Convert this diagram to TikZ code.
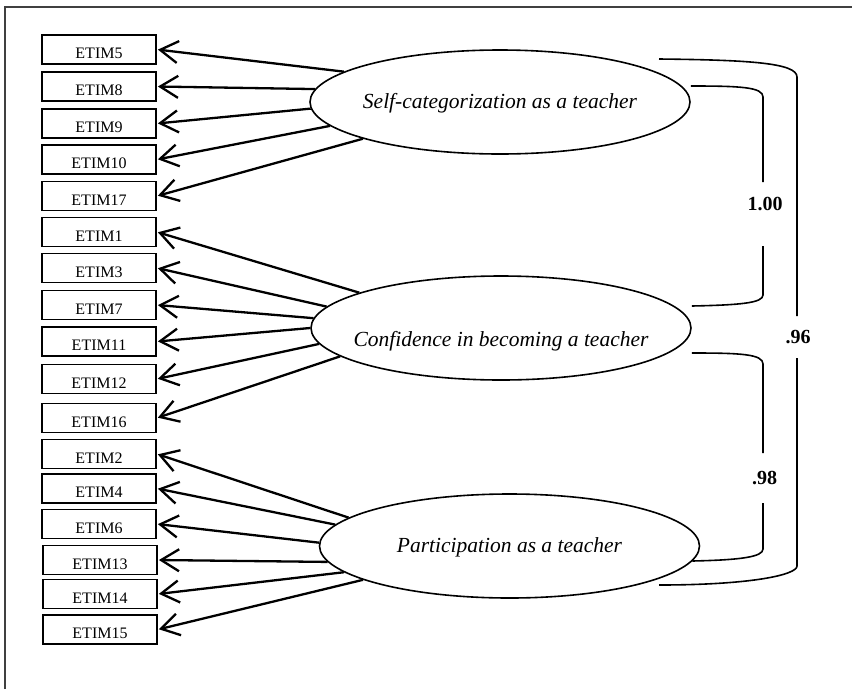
\documentclass[tikz,border=0pt]{standalone}
\usepackage{fontspec}
\setmainfont{Liberation Serif}
\usetikzlibrary{arrows.meta,shapes.geometric}
\tikzset{
  indic/.style={draw, line width=1.8pt, minimum width=114pt, minimum height=29pt, inner sep=2pt,
    text height=18.5pt, text depth=0pt, font=\fontsize{16}{18}\selectfont},
  latent/.style={draw, ellipse, line width=1.6pt, minimum width=380pt, minimum height=104pt, inner sep=0pt,
    text height=13pt, text depth=0pt, font=\fontsize{21.5}{25}\selectfont\itshape},
  load/.style={line width=2.3pt, -{Straight Barb[length=18pt,width=22pt]}, shorten >=1pt},
  corr/.style={line width=1.6pt},
  coef/.style={font=\fontsize{20}{24}\selectfont\bfseries}
}
\begin{document}
\begin{tikzpicture}[x=1pt,y=-1pt]
\useasboundingbox (0,0) rectangle (852,689);
\draw[line width=1.2pt, black!75] (5,689) -- (5,7) -- (852,7);

% latent factors
\node[latent] (selfcat) at (500,102) {\makebox[0pt]{Self-categorization as a teacher}};
\node[latent, text height=37pt] (confid) at (501,328) {\makebox[0pt]{Confidence in becoming a teacher}};
\node[latent] (partic) at (509.5,546) {\makebox[0pt]{Participation as a teacher}};

% items
\node[indic] (e5) at (99,49.5) {ETIM5};
\node[indic] (e8) at (99,86.5) {ETIM8};
\node[indic] (e9) at (99,123.5) {ETIM9};
\node[indic] (e10) at (99,159.5) {ETIM10};
\node[indic] (e17) at (99,196) {ETIM17};
\node[indic] (e1) at (99,232) {ETIM1};
\node[indic] (e3) at (99,268) {ETIM3};
\node[indic] (e7) at (99,305) {ETIM7};
\node[indic] (e11) at (99,341.5) {ETIM11};
\node[indic] (e12) at (99,379) {ETIM12};
\node[indic] (e16) at (99,418) {ETIM16};
\node[indic] (e2) at (99,454) {ETIM2};
\node[indic] (e4) at (99,488.5) {ETIM4};
\node[indic] (e6) at (99,524) {ETIM6};
\node[indic] (e13) at (100,560) {ETIM13};
\node[indic] (e14) at (100,594) {ETIM14};
\node[indic] (e15) at (100,629.5) {ETIM15};

% loadings
\draw[load] (selfcat.169) -- (e5.east);
\draw[load] (selfcat.176) -- (e8.east);
\draw[load] (selfcat.182) -- (e9.east);
\draw[load] (selfcat.188) -- (e10.east);
\draw[load] (selfcat.195) -- (e17.east);
\draw[load] (confid.166) -- (e1.east);
\draw[load] (confid.173) -- (e3.east);
\draw[load] (confid.177) -- (e7.east);
\draw[load] (confid.180) -- (e11.east);
\draw[load] (confid.185) -- (e12.east);
\draw[load] (confid.190) -- (e16.east);
\draw[load] (partic.170) -- (e2.east);
\draw[load] (partic.173) -- (e4.east);
\draw[load] (partic.179) -- (e6.east);
\draw[load] (partic.185) -- (e13.east);
\draw[load] (partic.189) -- (e14.east);
\draw[load] (partic.193) -- (e15.east);

% correlations
\coordinate (r1top) at (763,182);
\coordinate (r1bot) at (763,246);
\node[coef] (r1) at (765,204) {1.00};
\draw[corr] ([yshift=16pt]selfcat.east) .. controls (740,86) and (763,87) .. (763,97) -- (r1top);
\draw[corr] (r1bot) -- (763,295) .. controls (763,303) and (740,305) .. ([yshift=22pt]confid.east);

\coordinate (r2top) at (763,453);
\coordinate (r2bot) at (763,503);
\node[coef] (r2) at (764.5,477.5) {.98};
\draw[corr] ([yshift=-25pt]confid.east) .. controls (740,353) and (763,354) .. (763,364) -- (r2top);
\draw[corr] (r2bot) -- (763,549) .. controls (763,557) and (740,560) .. ([shift={(-8pt,-15pt)}]partic.east);

\coordinate (r3top) at (797,316);
\coordinate (r3bot) at (797,358);
\node[coef] (r3) at (798,337) {.96};
\draw[corr] ([shift={(159pt,43pt)}]selfcat.center) .. controls (750,60) and (797,63) .. (797,77) -- (r3top);
\draw[corr] (r3bot) -- (797,566) .. controls (797,575) and (750,585) .. ([shift={(149.5pt,-39pt)}]partic.center);
\end{tikzpicture}
\end{document}
